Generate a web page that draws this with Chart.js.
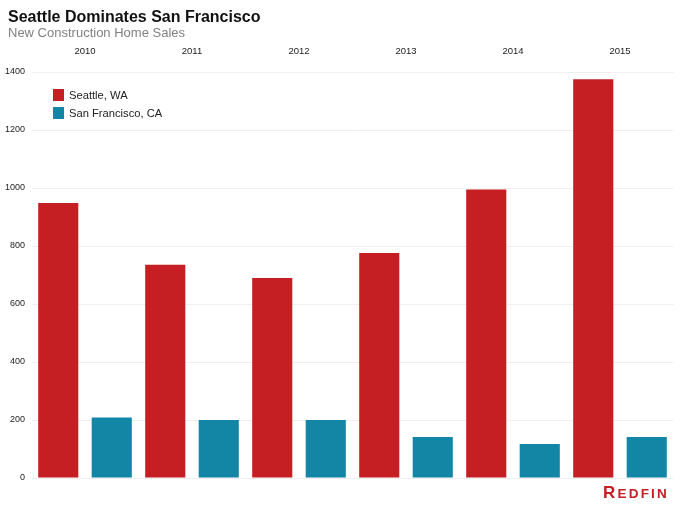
<!DOCTYPE html>
<html>
<head>
<meta charset="utf-8">
<script src="https://cdn.jsdelivr.net/npm/chart.js@4/dist/chart.umd.min.js"></script>
<style>
  html, body { margin: 0; padding: 0; background: #fff; }
  #wrap { position: relative; width: 680px; height: 506px; overflow: hidden; font-family: "Liberation Sans", Arial, Helvetica, sans-serif; }
  #c { position: absolute; left: 0; top: 0; }
  .title { position: absolute; left: 8px; top: 8.5px; font-size: 16px; line-height: 16px; font-weight: bold; color: #111; white-space: nowrap; }
  .subtitle { position: absolute; left: 8px; top: 26px; font-size: 13px; line-height: 13px; color: #808080; white-space: nowrap; }
  .legend { position: absolute; left: 53px; top: 86px; font-size: 11.2px; color: #222; }
  .legend .row { display: flex; align-items: center; height: 18px; white-space: nowrap; }
  .legend .sw { width: 11px; height: 12px; margin-right: 5px; }
  .logo { position: absolute; left: 603px; top: 483px; color: #c51f24; font-weight: bold; white-space: nowrap; letter-spacing: 2.2px; }
  .logo .big { font-size: 17px; }
  .logo .sm { font-size: 13.5px; }
</style>
</head>
<body>
<div id="wrap">
  <canvas id="c" width="680" height="506"></canvas>
  <div class="title">Seattle Dominates San Francisco</div>
  <div class="subtitle">New Construction Home Sales</div>
  <div class="legend">
    <div class="row"><div class="sw" style="background:#c51f24"></div>Seattle, WA</div>
    <div class="row"><div class="sw" style="background:#1486a5"></div>San Francisco, CA</div>
  </div>
  <div class="logo"><span class="big">R</span><span class="sm">EDFIN</span></div>
</div>
<script>
const years = ["2010", "2011", "2012", "2013", "2014", "2015"];
const seattle = [948, 735, 690, 776, 995, 1375];
const sanFrancisco = [209, 200, 200, 141, 117, 141];
const yTicks = [0, 200, 400, 600, 800, 1000, 1200, 1400];

const RED = "#c51f24";
const TEAL = "#1486a5";

new Chart(document.getElementById("c"), {
  type: "bar",
  data: {
    labels: years,
    datasets: [
      { label: "Seattle, WA", data: seattle, backgroundColor: RED, borderWidth: 0, categoryPercentage: 1, barPercentage: 0.75 },
      { label: "San Francisco, CA", data: sanFrancisco, backgroundColor: TEAL, borderWidth: 0, categoryPercentage: 1, barPercentage: 0.75 }
    ]
  },
  options: {
    responsive: false,
    animation: false,
    devicePixelRatio: 1,
    layout: { padding: { left: 0, right: 6.5, top: 0, bottom: 28 } },
    plugins: { legend: { display: false }, tooltip: { enabled: false }, title: { display: false } },
    scales: {
      x: {
        position: "top",
        grid: { display: false, drawTicks: false },
        border: { display: false },
        ticks: { color: "#222", padding: 15, font: { family: "'Liberation Sans', Arial, sans-serif", size: 9.5 } },
        afterFit: s => { s.height = 72; }
      },
      y: {
        min: 0,
        max: 1400,
        afterBuildTicks: s => { s.ticks = yTicks.map(v => ({ value: v })); },
        grid: { color: "#efefef", drawTicks: false, lineWidth: 1 },
        border: { display: false },
        ticks: { color: "#222", padding: 6.5, callback: v => String(v), font: { family: "'Liberation Sans', Arial, sans-serif", size: 9 } },
        afterFit: s => { s.width = 31.5; }
      }
    }
  }
});
</script>
</body>
</html>
